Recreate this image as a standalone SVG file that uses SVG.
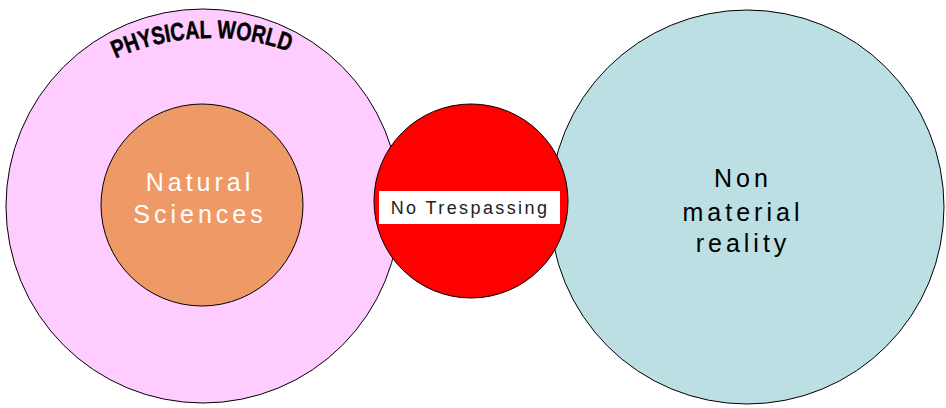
<svg xmlns="http://www.w3.org/2000/svg" width="946" height="408" viewBox="0 0 946 408">
<style>
.c{stroke:#000;stroke-width:1}
.t{font-family:"Liberation Sans",Arial,sans-serif}
</style>
<defs>
<path id="arc" d="M 11 154.4 A 230 230 0 0 1 411 154.4"/>
</defs>
<rect width="946" height="408" fill="#fff"/>
<g id="physical-world">
<circle class="c" cx="203" cy="206" r="197" fill="#FFCCFF"/>
<text class="t" font-size="25" font-weight="bold" fill="#000" stroke="#000" stroke-width="0.5" text-anchor="middle"><textPath href="#arc" startOffset="233" textLength="178" lengthAdjust="spacingAndGlyphs">PHYSICAL WORLD</textPath></text>
</g>
<g id="natural-sciences">
<circle class="c" cx="202" cy="205" r="101" fill="#EE9966"/>
<text class="t" font-size="25" fill="#fff" letter-spacing="4" text-anchor="middle"><tspan x="200" y="191">Natural</tspan><tspan x="200" y="223">Sciences</tspan></text>
</g>
<g id="non-material">
<circle class="c" cx="747" cy="207" r="197" fill="#BBDFE3"/>
<text class="t" font-size="25" fill="#000" letter-spacing="4" text-anchor="middle"><tspan x="743" y="187">Non</tspan><tspan x="743" y="221">material</tspan><tspan x="743" y="252">reality</tspan></text>
</g>
<g id="no-trespassing">
<circle class="c" cx="471" cy="201" r="97" fill="#FF0000"/>
<rect x="379" y="191" width="181" height="33" fill="#fff"/>
<text class="t" x="470" y="214" font-size="18" fill="#222" letter-spacing="2.4" text-anchor="middle">No Trespassing</text>
</g>
<g id="connectors"/>
</svg>
